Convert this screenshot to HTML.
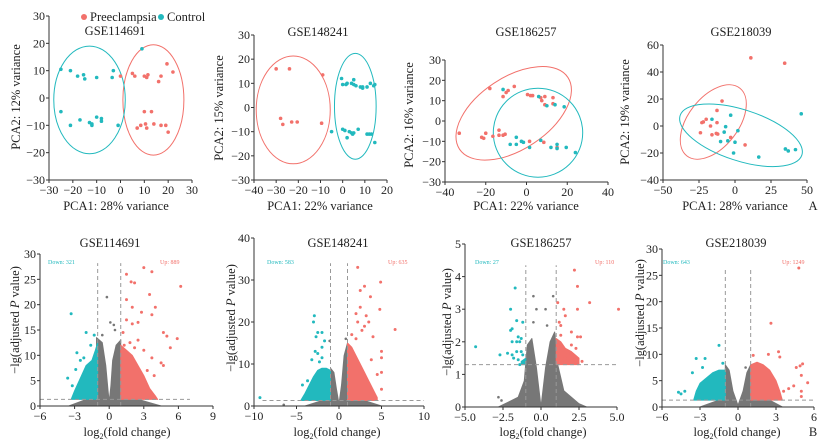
<!DOCTYPE html>
<html><head><meta charset="utf-8">
<style>
html,body{margin:0;padding:0;background:#fff;}
svg{display:block;font-family:"Liberation Serif",serif;}
</style></head>
<body>
<svg id="fig" width="831" height="448" viewBox="0 0 831 448" xmlns="http://www.w3.org/2000/svg"></svg>
<script>
// ===== PCA data =====
const pca1Pre=[[0,8],[5,9],[6,8],[10,8],[11,7.5],[11.5,8.5],[17,8],[16,6],[19.5,12.5],[22,9.5],[10,-5],[13,-5],[7,-11],[8.5,-10],[10.5,-9.5],[11,-11],[14,-9.5],[17,-10],[19,-10],[20,-12.5]];
const pca1Con=[[-25,10.5],[-21,10],[-18,8],[-15.5,8.5],[-15,7],[-10,7.5],[-3.5,7.5],[-3,10],[9,18],[-25,-5],[-21,-10],[-17,-8],[-13,-9],[-12,-10],[-12,-9.5],[-10,-7],[-8,-7.5],[-8,-8.5],[-1,-10]];
const pca2Pre=[[-30,16],[-24,16],[-9,13.5],[-28,-4.5],[-27,-7],[-23,-6],[-20.5,-6],[-9.5,-6.5]];
const pca2Con=[[-0.5,12],[0,9.5],[1.5,9.5],[2,10],[4,10],[5,11.5],[5,9.5],[6,9],[8,8.5],[9,8],[9,8.5],[11,8.5],[12.5,10],[14,9],[14.5,9.5],[-5,-10],[0,-9],[1,-9.5],[2,-12.5],[3,-10],[4,-10.5],[4.5,-11],[5,-10.5],[7,-9],[11,-11],[12,-11],[13,-11],[14.5,-14.5]];
const pca3Pre=[[-33,-6],[-22,-8],[-21,-8.5],[-20,-6],[-16.5,-7.5],[-13.5,-4.5],[-13.5,-7],[-11.5,-7],[-10.5,-6.5],[-18,16],[-11.5,12],[-10,14],[-9,15],[-6,17],[0.5,13],[2,12.5],[3,12.5],[7,11.5],[7.5,10],[9,12],[9,8],[13,11.5],[13,8.5],[1.5,-10],[8.5,-10.5],[15,-13]];
const pca3Con=[[-11.5,15.5],[6,12],[10,7.5],[14,8],[18.5,7],[-5,-8],[-8,-11.5],[-5,-11.5],[-2.5,-10],[-1.5,-10.5],[1.5,-13],[7,-9.5],[12,-13],[15,-11.5],[15,-13.5],[19.5,-13],[24,-15.5]];
const pca4Pre=[[11,50.5],[34.5,46.5],[-9,18.5],[-12.5,11.5],[-20,5],[-22,3],[-23,2.5],[-12.5,2.5],[-17,0],[-24,-5],[-16,-6.5],[-13,-5.5],[-12,-6],[-3,-8.5],[7,-14]];
const pca4Con=[[-16,5],[-3,8],[-6.5,-0.5],[-7.5,-4.5],[2,-3.5],[-10,-11.5],[-5,-11],[0,-12],[-1,-20],[16.5,-23],[35,-17],[37,-18.5],[42,-17.5],[46,9]];
// ===== Volcano data (envelopes [log2FC, -lgP] and outlier points) =====
const v1Grey=[[-3.5,0],[-2,1.3],[-1.1,1.3],[-1.1,13.5],[-0.6,12.5],[-0.3,8],[-0.1,3],[0,0.8],[0.15,4],[0.3,9],[0.6,12],[1,13],[1,1.3],[2.5,1.3],[4.5,0]];
const v1Down=[[-1,1.3],[-3.3,1.3],[-3,3],[-2.6,5],[-2,8],[-1.5,9],[-1.2,11],[-1,12.5]];
const v1Up=[[1,1.3],[1,12],[1.5,11],[2,10],[2.5,8],[3,6],[3.5,3.5],[4,2],[4.2,1.3]];
const v1DownPts=[[-3.3,18.2],[-2,14.5],[-1.3,14],[-2.8,10.5],[-3.6,5.5],[-2.9,7.2],[-2.5,9],[-2.2,9.5],[-1.6,12],[-3.2,4]];
const v1UpPts=[[3,27.3],[3.7,26.5],[1.5,26],[1.9,24.5],[2.2,24.3],[6.2,23.6],[3.5,22],[1.5,21],[2,19.5],[4,19.5],[2.8,18.5],[3.7,18],[1.5,17],[2,16.2],[2.5,16.5],[4.7,14.5],[5,13.8],[5.9,13.3],[5.3,11.5],[1.2,14.5],[2.5,13],[3,11],[4.5,8.5],[4.7,8],[3.7,9.5],[1.8,12.5],[1.3,12],[2.2,11.5],[3.3,7],[3.9,6]];
const v1GreyPts=[[0.1,16.5],[-0.2,21.5],[0.4,16],[0.5,15],[-0.6,14]];
const v2Grey=[[-4,0],[-2,1.3],[-1,1.3],[-1,9],[-0.6,8],[-0.3,4],[0,0.5],[0.3,5],[0.6,12],[1,15],[1,1.3],[3,1.3],[5,0]];
const v2Down=[[-1,1.3],[-4.5,1.3],[-4,3],[-3.5,5],[-3,7],[-2.5,8.5],[-2,9],[-1.5,9],[-1,8.5]];
const v2Up=[[1,1.3],[1,15],[1.5,14],[2,12],[2.5,10],[3,8],[3.5,6],[4,4],[4.5,2],[4.5,1.3]];
const v2DownPts=[[-2.9,21.5],[-3,20],[-2.5,17.5],[-2,17.5],[-2.7,16.5],[-1.7,15.5],[-2.8,13],[-2,14],[-2.5,12.5],[-2,11.5],[-3.2,11],[-2.3,10.5],[-9.3,2],[-4.3,5],[-3.7,6]];
const v2UpPts=[[2.2,33],[3,28.5],[2.5,27.5],[3.7,26],[4.9,29.5],[4.8,23],[2.5,23.5],[3.2,21.5],[2,22],[3.5,20],[6.6,18.2],[3,19],[4,16.5],[5,13],[5,11.5],[5,8],[4.5,7.5],[5,4],[3.8,11],[2.7,18],[2.2,20],[1.5,17],[2,16]];
const v2GreyPts=[[-1.1,15.5],[0.8,16],[-6.5,0.3]];
const v3Grey=[[-2.8,0],[-1.5,0.3],[-1.1,0.8],[-0.9,1.9],[-0.6,2.1],[-0.3,1.2],[-0.05,0.2],[0,0],[0.05,0.2],[0.3,1.2],[0.6,2.0],[0.9,2.3],[1.1,1.3],[1.5,0.5],[2.5,0.1],[3,0]];
const v3Down=[[-1,1.3],[-1,1.5],[-1.3,1.4],[-1.3,1.3]];
const v3Up=[[1,1.3],[1,2.1],[1.3,2],[1.6,1.8],[2,1.7],[2.5,1.5],[2.5,1.3]];
const v3DownPts=[[-1.7,3.65],[-2,3],[-1.6,2.65],[-1.2,2.6],[-2,2.35],[-1.9,2.4],[-1.5,2.15],[-1.9,2.0],[-1.6,2],[-1.4,2],[-1.3,2.1],[-4.3,1.85],[-2.7,1.6],[-2.2,1.65],[-1.9,1.6],[-1.6,1.7],[-1.3,1.7],[-1.2,1.6],[-1.5,1.45],[-1.8,1.5],[-1.4,1.3]];
const v3UpPts=[[2.2,4.2],[2.4,3.7],[3.2,3.2],[5.1,3.0],[1.1,3.2],[1.5,3],[2.4,3],[1.6,2.8],[1.2,2.6],[1.3,2.5],[2.6,2.15],[2.4,2.15],[1.3,2.2],[2,1.9],[1.3,1.8],[1.6,1.5],[2.2,1.45],[2.7,1.4],[1.1,1.9],[1.8,1.65],[2.3,1.8],[1.4,1.4],[2.0,2.3]];
const v3GreyPts=[[-0.5,3.4],[0.8,3.4],[-0.3,3.0],[0.3,3.0],[-0.5,2.6],[0.4,2.5],[-2.8,0.3],[-2.6,0.2]];
const v4Grey=[[-3,0],[-1.5,1.3],[-1,1.3],[-1,8],[-0.7,7],[-0.4,3],[0,0.3],[0.4,3],[0.7,6.5],[1,8],[1,1.3],[2.5,1.3],[3.5,0]];
const v4Down=[[-1,1.3],[-3.5,1.3],[-3.3,3],[-3,4.5],[-2.5,5.5],[-2,6.5],[-1.5,7],[-1,7]];
const v4Up=[[1,1.3],[1,8],[1.5,8.5],[2,8],[2.5,7],[3,5],[3.3,3],[3.5,1.3]];
const v4DownPts=[[-1.5,11.7],[-3.3,9.2],[-2.6,9.2],[-1.2,8.3],[-3.6,6.5],[-4.2,3],[-4.5,2.5],[-4.7,2.8],[-2.8,7.5]];
const v4UpPts=[[4.8,26.4],[2.6,15.9],[3.2,10.5],[3.3,9.5],[2.4,10],[1.2,9.8],[5.1,8.2],[4.9,7.8],[4.6,7.5],[5,6],[5.5,4.6],[4.4,4],[5,3],[5,2],[4,3.5],[3.6,3]];
const v4GreyPts=[[-0.8,6.5],[0.6,7.5]];

const RED="#f2716b", CYAN="#22b9be", GREY="#777777";
const svg=document.getElementById('fig');
const NS="http://www.w3.org/2000/svg";
function el(tag,attrs,parent){const e=document.createElementNS(NS,tag);for(const k in attrs)e.setAttribute(k,attrs[k]);(parent||svg).appendChild(e);return e;}
function scale(d0,d1,p0,p1){return v=>p0+(v-d0)*(p1-p0)/(d1-d0);}
function fmt(v,dec){let s=dec?v.toFixed(1):String(v);return s.replace('-','\u2212');}
function txt(x,y,s,size,anchor,parent,name,rot){const t=el('text',{x:x,y:y,'font-size':size,'text-anchor':anchor||'middle',fill:'#222'},parent);t.textContent=s;
 
 
 if(rot)t.setAttribute('transform','rotate(-90 '+x+' '+y+')');return t;}

function axes(g,sx,sy,xr,yr,xt,yt,dec,id){
 const ax=el('line',{x1:sx(xr[0]),y1:sy(yr[0]),x2:sx(xr[1]),y2:sy(yr[0]),stroke:'#333','stroke-width':1},g);
 
 
 const ay=el('line',{x1:sx(xr[0]),y1:sy(yr[0]),x2:sx(xr[0]),y2:sy(yr[1]),stroke:'#333','stroke-width':1},g);
 
 
 xt.forEach(v=>{el('line',{x1:sx(v),x2:sx(v),y1:sy(yr[0]),y2:sy(yr[0])+3,stroke:'#333'},g);
  txt(sx(v),sy(yr[0])+14,fmt(v,dec),12,'middle',g,id+'-x-tick-label');});
 yt.forEach(v=>{el('line',{x1:sx(xr[0])-3,x2:sx(xr[0]),y1:sy(v),y2:sy(v),stroke:'#333'},g);
  txt(sx(xr[0])-4,sy(v)+4,fmt(v,false),12,'end',g,id+'-y-tick-label');});
}
function dots(g,pts,sx,sy,c,r,name){pts.forEach(p=>{const d=el('circle',{cx:sx(p[0]),cy:sy(p[1]),r:r,fill:c},g);
 
 });}
function range(a,b,s){const r=[];for(let v=a;v<=b+1e-9;v+=s)r.push(Math.round(v*10)/10);return r;}

// PCA panels
const pcas=[
 {id:'pca-gse114691',title:'GSE114691',tx:115,ty:35,xr:[-30,30],px:[49,192],yr:[-30,30],py:[180,16],xs:10,ys:10,pre:pca1Pre,con:pca1Con,xl:'PCA1: 28% variance',xlx:116,yl:'PCA2: 12% variance',ylx:20,yly:97,
  ell:[{c:RED,cx:13.8,cy:-0.7,rx:12.8,ry:20.2},{c:CYAN,cx:-13,cy:-0.7,rx:15,ry:19.7}]},
 {id:'pca-gse148241',title:'GSE148241',tx:318,ty:36,xr:[-40,20],px:[254,387],yr:[-30,30],py:[180,35],xs:10,ys:10,pre:pca2Pre,con:pca2Con,xl:'PCA1: 22% variance',xlx:320,yl:'PCA2: 15% variance',ylx:223,yly:108,
  ell:[{c:RED,cx:-22.3,cy:-1,rx:16.7,ry:22.3},{c:CYAN,cx:5.7,cy:0.5,rx:9.4,ry:21.9}]},
 {id:'pca-gse186257',title:'GSE186257',tx:526,ty:36,xr:[-40,40],px:[445,608],yr:[-30,30],py:[182,60],xs:20,ys:10,pre:pca3Pre,con:pca3Con,xl:'PCA1: 22% variance',xlx:526,yl:'PCA2: 16% variance',ylx:413,yly:115,
  ellPx:[{c:RED,cx:513.7,cy:113.3,rx:65,ry:36,a:-33.5},{c:CYAN,cx:538,cy:132.7,rx:44.7,ry:44.5,a:0}]},
 {id:'pca-gse218039',title:'GSE218039',tx:741,ty:36,xr:[-50,50],px:[663,807],yr:[-40,60],py:[180,45],xs:25,ys:20,pre:pca4Pre,con:pca4Con,xl:'PCA1: 28% variance',xlx:735,yl:'PCA2: 19% variance',ylx:629,yly:112,
  ellPx:[{c:RED,cx:713.3,cy:122,rx:43,ry:25,a:-52},{c:CYAN,cx:741,cy:135.3,rx:64,ry:25.5,a:18}]}
];
pcas.forEach(p=>{
 const g=el('g',{});
 
 
 const sx=scale(p.xr[0],p.xr[1],p.px[0],p.px[1]), sy=scale(p.yr[0],p.yr[1],p.py[0],p.py[1]);
 axes(g,sx,sy,p.xr,p.yr,range(p.xr[0],p.xr[1],p.xs),range(p.yr[0],p.yr[1],p.ys),false,p.id);
 (p.ell||[]).forEach(e=>{const o=el('ellipse',{cx:sx(e.cx),cy:sy(e.cy),rx:Math.abs(sx(e.cx+e.rx)-sx(e.cx)),ry:Math.abs(sy(e.cy+e.ry)-sy(e.cy)),fill:'none',stroke:e.c,'stroke-width':1},g);
  
  });
 (p.ellPx||[]).forEach(e=>{const o=el('ellipse',{cx:0,cy:0,rx:e.rx,ry:e.ry,fill:'none',stroke:e.c,'stroke-width':1,transform:'translate('+e.cx+' '+e.cy+') rotate('+e.a+')'},g);
  
  });
 dots(g,p.pre,sx,sy,RED,1.8,'preeclampsia-point');
 dots(g,p.con,sx,sy,CYAN,1.8,'control-point');
 txt(p.tx,p.ty,p.title,12.5,'middle',g,p.id+'-title');
 txt(p.xlx,210,p.xl,12.5,'middle',g,p.id+'-x-axis-title');
 txt(p.ylx,p.yly,p.yl,12.5,'middle',g,p.id+'-y-axis-title',true);
});
// legend
const lg=el('g',{});


const l1=el('circle',{cx:84,cy:17,r:3,fill:RED},lg);


txt(90,21,'Preeclampsia',12.5,'start',lg,'legend-preeclampsia');
const l2=el('circle',{cx:161,cy:17,r:3,fill:CYAN},lg);


txt(167,21,'Control',12.5,'start',lg,'legend-control');
txt(813,210,'A',12.5,'middle',svg,'panel-label-a');

// Volcano panels
const vols=[
 {id:'volcano-gse114691',title:'GSE114691',tx:110,xr:[-6,9],px:[40,213],yr:[0,30],py:[406,254],xt:[-6,-3,0,3,6,9],yt:range(0,30,5),dec:false,vtop:28.2,hr:[-6,7],
  grey:v1Grey,down:v1Down,up:v1Up,dp:v1DownPts,upp:v1UpPts,gp:v1GreyPts,dl:'Down: 321',dlx:48,ul:'Up: 889',ulx:160,xlx:127,ylx:19,yly:320},
 {id:'volcano-gse148241',title:'GSE148241',tx:338,xr:[-10,10],px:[254,424],yr:[0,40],py:[406,238],xt:[-10,-5,0,5,10],yt:range(0,40,10),dec:false,vtop:34,hr:[-9,10],
  grey:v2Grey,down:v2Down,up:v2Up,dp:v2DownPts,upp:v2UpPts,gp:v2GreyPts,dl:'Down: 583',dlx:267,ul:'Up: 635',ulx:388,xlx:337,ylx:235,yly:318},
 {id:'volcano-gse186257',title:'GSE186257',tx:541,xr:[-5,5],px:[465,617],yr:[0,5],py:[407,244],xt:[-5,-2.5,0,2.5,5],yt:range(0,5,1),dec:true,vtop:4.35,hr:[-5,5],
  grey:v3Grey,down:v3Down,up:v3Up,dp:v3DownPts,upp:v3UpPts,gp:v3GreyPts,dl:'Down: 27',dlx:475,ul:'Up: 110',ulx:595,xlx:543,ylx:451,yly:322},
 {id:'volcano-gse218039',title:'GSE218039',tx:736,xr:[-6,6],px:[662,814],yr:[0,30],py:[407,249],xt:[-6,-3,0,3,6],yt:range(0,30,5),dec:false,vtop:26.5,hr:[-6,6],
  grey:v4Grey,down:v4Down,up:v4Up,dp:v4DownPts,upp:v4UpPts,gp:v4GreyPts,dl:'Down: 643',dlx:663,ul:'Up: 1249',ulx:782,xlx:737,ylx:644,yly:313}
];
vols.forEach(v=>{
 const g=el('g',{});
 
 
 const sx=scale(v.xr[0],v.xr[1],v.px[0],v.px[1]), sy=scale(v.yr[0],v.yr[1],v.py[0],v.py[1]);
 const poly=(arr,c,name)=>{const p=el('polygon',{points:arr.map(a=>sx(a[0])+','+sy(a[1])).join(' '),fill:c,stroke:c,'stroke-width':1,'stroke-linejoin':'round'},g);
  
  };
 poly(v.grey,GREY,'not-significant-cloud');
 poly(v.down,CYAN,'down-regulated-cloud');
 poly(v.up,RED,'up-regulated-cloud');
 dots(g,v.gp,sx,sy,GREY,1.3,'not-significant-point');
 dots(g,v.dp,sx,sy,CYAN,1.5,'down-regulated-point');
 dots(g,v.upp,sx,sy,RED,1.5,'up-regulated-point');
 const dash={stroke:'#999','stroke-width':1,'stroke-dasharray':'4,3',fill:'none'};
 [-1,1].forEach(x=>{const l=el('line',Object.assign({x1:sx(x),x2:sx(x),y1:sy(0),y2:sy(v.vtop)},dash),g);
  
  });
 const h=el('line',Object.assign({x1:sx(v.hr[0]),x2:sx(v.hr[1]),y1:sy(1.3),y2:sy(1.3)},dash),g);
 
 
 axes(g,sx,sy,v.xr,v.yr,v.xt,v.yt,v.dec,v.id);
 txt(v.tx,247,v.title,12.5,'middle',g,v.id+'-title');
 const d=txt(v.dlx,264,v.dl,6,'start',g,v.id+'-down-count');d.setAttribute('fill',CYAN);
 const u=txt(v.ulx,264,v.ul,6,'start',g,v.id+'-up-count');u.setAttribute('fill',RED);
 const xl=el('text',{x:v.xlx,y:436,'font-size':12.5,'text-anchor':'middle',fill:'#222'},g);
 
 
 xl.innerHTML='log<tspan font-size="8" dy="3">2</tspan><tspan dy="-3">(fold change)</tspan>';
 const yl=el('text',{x:v.ylx,y:v.yly,'font-size':12.5,'text-anchor':'middle',fill:'#222',transform:'rotate(-90 '+v.ylx+' '+v.yly+')'},g);
 
 
 yl.innerHTML='\u2212lg(adjusted <tspan font-style="italic">P</tspan> value)';
});
txt(813,436,'B',12.5,'middle',svg,'panel-label-b');
</script>
</body></html>
